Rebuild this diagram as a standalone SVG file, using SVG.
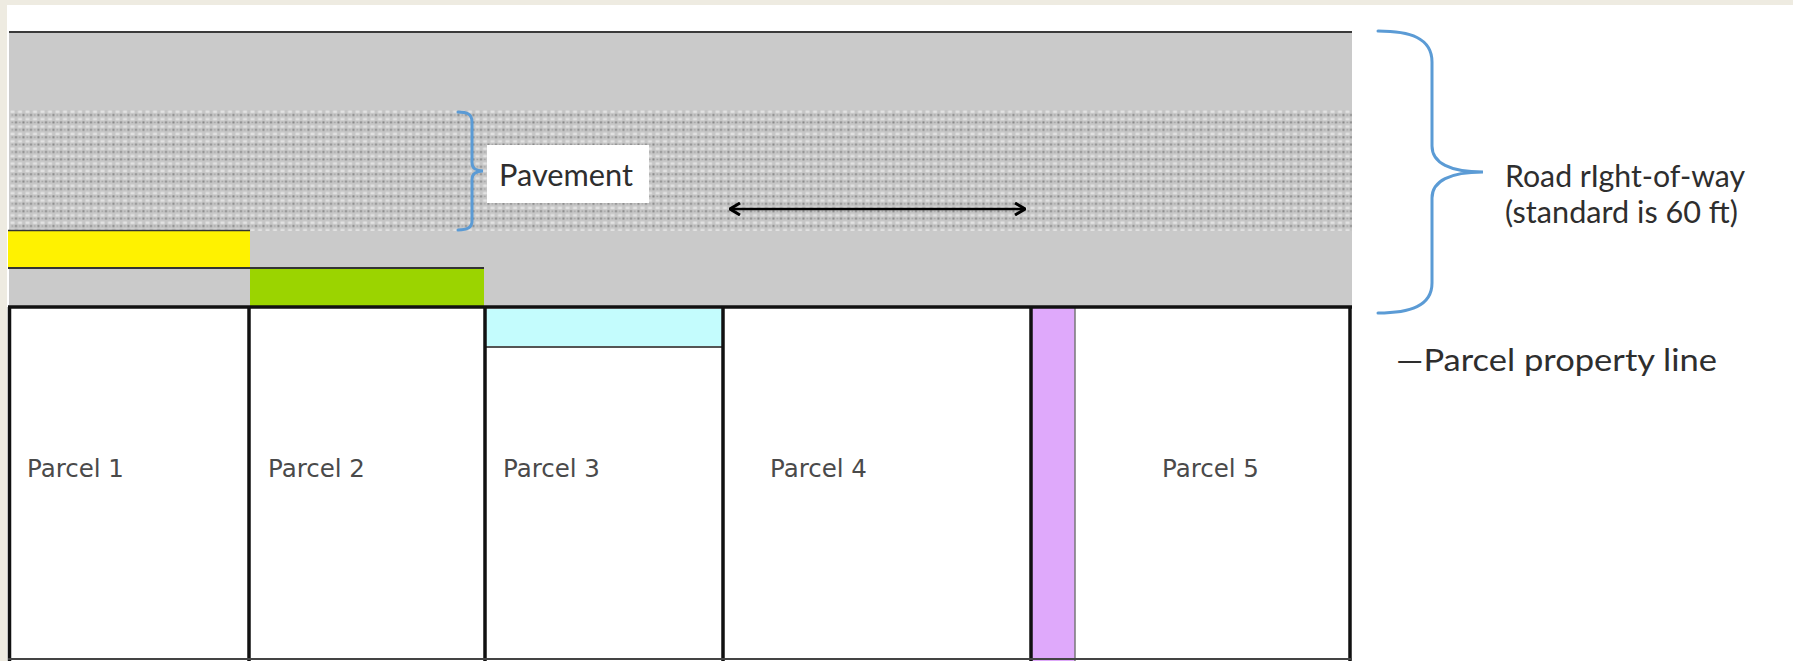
<svg xmlns="http://www.w3.org/2000/svg" width="1793" height="661" viewBox="0 0 1793 661">
  <style>
    .parcel { fill: #ffffff; }
    .pline { stroke: #111111; stroke-width: 3.5; fill: none; }
    .plabel { font-family: "DejaVu Sans", Verdana, sans-serif; font-size: 24.5px; fill: #4a4a4a; }
    .clabel { font-family: Lato, "Open Sans", sans-serif; font-size: 30px; fill: #2e2e2e; }
    .brace { fill: none; stroke: #5b9bd5; stroke-width: 3; stroke-linecap: round; }
  </style>
  <defs>
    <pattern id="dots" x="10" y="110" width="7.5" height="7.4" patternUnits="userSpaceOnUse">
      <rect width="7.5" height="7.4" fill="#c6c6c6"/>
      <rect x="0.5" y="0.5" width="4" height="2.5" fill="#e2e2e2"/>
      <rect x="5" y="4" width="2" height="2" fill="#858585"/>
      <rect x="1.5" y="4.3" width="1.6" height="1.4" fill="#a0a0a0"/>
    </pattern>
    <marker id="chev" viewBox="0 0 12 14" refX="11" refY="7" markerWidth="12" markerHeight="14" markerUnits="userSpaceOnUse" orient="auto-start-reverse">
      <path d="M1,1 L11,7 L1,13" fill="none" stroke="#000" stroke-width="3" stroke-linejoin="miter"/>
    </marker>
  </defs>

  <!-- page -->
  <rect x="0" y="0" width="1793" height="661" fill="#eeebe1"/>
  <rect x="7" y="5" width="1786" height="656" fill="#ffffff"/>

  <!-- road -->
  <g id="road">
    <rect x="9" y="32" width="1343" height="275" fill="#cacaca"/>
    <line x1="9" y1="32" x2="1352" y2="32" stroke="#3a3a3a" stroke-width="2"/>
    <rect id="pavement" x="10" y="110" width="1342" height="121" fill="url(#dots)"/>
  </g>

  <!-- driveway / encroachment bands -->
  <g id="yellow-band">
    <rect x="8" y="230" width="242" height="38" fill="#fff200"/>
    <line x1="8" y1="230.5" x2="250" y2="230.5" stroke="#333" stroke-width="1.5"/>
  </g>
  <g id="green-band">
    <rect x="250" y="268" width="234" height="38" fill="#9bd400"/>
    <line x1="8" y1="268" x2="484" y2="268" stroke="#333" stroke-width="2"/>
  </g>

  <!-- parcels -->
  <g id="parcel1">
    <rect class="parcel" x="9" y="307" width="240" height="352"/>
    <text class="plabel" x="27" y="477">Parcel 1</text>
  </g>
  <g id="parcel2">
    <rect class="parcel" x="249" y="307" width="236" height="352"/>
    <text class="plabel" x="268" y="477">Parcel 2</text>
  </g>
  <g id="parcel3">
    <rect class="parcel" x="485" y="307" width="238" height="352"/>
    <rect x="486" y="309" width="237" height="38" fill="#c4fcfd"/>
    <line x1="486" y1="347" x2="723" y2="347" stroke="#555" stroke-width="2"/>
    <text class="plabel" x="503" y="477">Parcel 3</text>
  </g>
  <g id="parcel4">
    <rect class="parcel" x="723" y="307" width="308" height="352"/>
    <text class="plabel" x="770" y="477">Parcel 4</text>
  </g>
  <g id="parcel5">
    <rect class="parcel" x="1031" y="307" width="319" height="352"/>
    <rect x="1032" y="308" width="43" height="353" fill="#dfa9fb"/>
    <line x1="1075" y1="308" x2="1075" y2="661" stroke="#777" stroke-width="1.5"/>
    <text class="plabel" x="1162" y="477">Parcel 5</text>
  </g>

  <!-- property lines -->
  <g id="property-lines" class="pline">
    <line x1="8" y1="307" x2="1352" y2="307"/>
    <line x1="9.5" y1="307" x2="9.5" y2="661"/>
    <line x1="249" y1="307" x2="249" y2="661"/>
    <line x1="485" y1="307" x2="485" y2="661"/>
    <line x1="723" y1="307" x2="723" y2="661"/>
    <line x1="1031" y1="307" x2="1031" y2="661"/>
    <line x1="1350" y1="307" x2="1350" y2="661"/>
    <line x1="8" y1="659" x2="1352" y2="659" stroke="#444" stroke-width="2"/>
  </g>

  <!-- connectors / annotations -->
  <g id="connectors">
    <line x1="730" y1="209" x2="1025" y2="209" stroke="#000" stroke-width="2.5" marker-start="url(#chev)" marker-end="url(#chev)"/>
    <path class="brace" d="M458,112 C467,112 472,114 472,122 L472,163 C472,168 476,171 483,171 C476,171 472,174 472,179 L472,221 C472,228 467,230 458,230"/>
    <path class="brace" d="M1378,31 C1410,31 1432,38 1432,62 L1432,146 C1432,163 1450,172 1483,172 C1450,172 1432,181 1432,198 L1432,283 C1432,306 1410,313 1378,313"/>
  </g>

  <!-- labels -->
  <g id="pavement-label">
    <rect x="487" y="145" width="162" height="58" fill="#ffffff"/>
    <text class="clabel" x="499" y="186" textLength="134" lengthAdjust="spacingAndGlyphs">Pavement</text>
  </g>
  <g id="row-label">
    <text class="clabel" x="1505" y="187" textLength="240" lengthAdjust="spacingAndGlyphs">Road rIght-of-way</text>
    <text class="clabel" x="1505" y="223" textLength="233" lengthAdjust="spacingAndGlyphs">(standard is 60 ft)</text>
  </g>
  <g id="legend">
    <text class="clabel" x="1396" y="371" textLength="321" lengthAdjust="spacingAndGlyphs">—Parcel property line</text>
  </g>
</svg>
